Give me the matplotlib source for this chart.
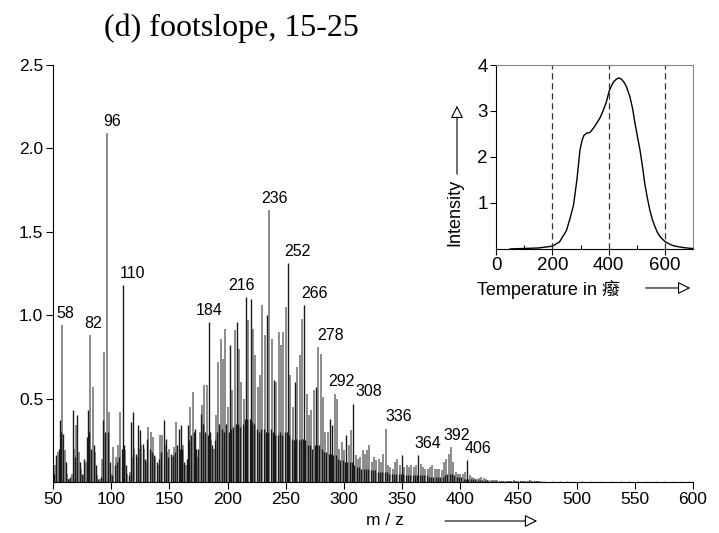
import numpy as np
import matplotlib
matplotlib.use('Agg')
from matplotlib import pyplot as plt
from matplotlib.patches import FancyArrowPatch

plt.rcParams['font.family'] = ['Liberation Sans', 'Noto Sans CJK SC']

# mass spectrum, one value per integer m/z starting at 50
mz_start = 50
intensity = [
    0.03, 0.05, 0.10, 0.16, 0.18, 0.20, 0.37, 0.30, 0.94, 0.29,   # 50
    0.19, 0.12, 0.05, 0.02, 0.02, 0.03, 0.05, 0.43, 0.20, 0.15,   # 60
    0.34, 0.40, 0.18, 0.12, 0.08, 0.05, 0.04, 0.14, 0.12, 0.27,   # 70
    0.43, 0.30, 0.88, 0.20, 0.57, 0.22, 0.18, 0.10, 0.04, 0.02,   # 80
    0.02, 0.03, 0.14, 0.37, 0.78, 0.30, 2.09, 0.30, 0.42, 0.12,   # 90
    0.05, 0.04, 0.21, 0.10, 0.15, 0.12, 0.22, 0.15, 0.42, 0.20,   # 100
    1.18, 0.22, 0.19, 0.10, 0.05, 0.04, 0.06, 0.36, 0.15, 0.42,   # 110
    0.20, 0.17, 0.15, 0.34, 0.20, 0.31, 0.22, 0.23, 0.20, 0.14,   # 120
    0.12, 0.26, 0.33, 0.20, 0.30, 0.18, 0.27, 0.16, 0.15, 0.12,   # 130
    0.10, 0.14, 0.28, 0.18, 0.28, 0.37, 0.22, 0.26, 0.18, 0.15,   # 140
    0.20, 0.17, 0.15, 0.16, 0.21, 0.18, 0.36, 0.22, 0.32, 0.20,   # 150
    0.34, 0.20, 0.22, 0.12, 0.10, 0.14, 0.34, 0.25, 0.45, 0.28,   # 160
    0.54, 0.30, 0.32, 0.20, 0.15, 0.20, 0.30, 0.41, 0.46, 0.35,   # 170
    0.58, 0.30, 0.58, 0.28, 0.96, 0.30, 0.25, 0.22, 0.20, 0.25,   # 180
    0.40, 0.30, 0.72, 0.35, 0.86, 0.32, 0.74, 0.30, 0.92, 0.35,   # 190
    0.45, 0.30, 0.82, 0.32, 0.55, 0.33, 0.91, 0.35, 0.96, 0.35,   # 200
    0.80, 0.33, 0.60, 0.35, 0.50, 0.38, 1.11, 0.38, 0.97, 0.38,   # 210
    1.10, 0.36, 0.92, 0.35, 0.76, 0.32, 0.57, 0.30, 0.64, 0.32,   # 220
    1.06, 0.32, 0.88, 0.30, 1.00, 0.30, 1.63, 0.32, 0.86, 0.30,   # 230
    0.61, 0.28, 0.60, 0.28, 0.90, 0.30, 0.82, 0.28, 0.90, 0.30,   # 240
    1.05, 0.30, 1.31, 0.28, 0.64, 0.26, 0.45, 0.25, 0.60, 0.26,   # 250
    0.69, 0.25, 0.76, 0.26, 0.98, 0.26, 1.06, 0.25, 0.53, 0.22,   # 260
    0.40, 0.22, 0.43, 0.20, 0.55, 0.22, 0.57, 0.22, 0.81, 0.22,   # 270
    0.77, 0.20, 0.51, 0.18, 0.30, 0.18, 0.30, 0.17, 0.38, 0.17,   # 280
    0.34, 0.16, 0.53, 0.16, 0.50, 0.14, 0.20, 0.13, 0.24, 0.13,   # 290
    0.19, 0.12, 0.28, 0.12, 0.22, 0.12, 0.31, 0.12, 0.47, 0.10,   # 300
    0.16, 0.09, 0.14, 0.09, 0.15, 0.08, 0.19, 0.08, 0.17, 0.08,   # 310
    0.19, 0.08, 0.22, 0.07, 0.12, 0.07, 0.15, 0.07, 0.13, 0.06,   # 320
    0.14, 0.06, 0.12, 0.06, 0.17, 0.06, 0.32, 0.06, 0.10, 0.05,   # 330
    0.09, 0.05, 0.08, 0.05, 0.12, 0.05, 0.14, 0.05, 0.10, 0.05,   # 340
    0.16, 0.05, 0.09, 0.04, 0.10, 0.04, 0.09, 0.04, 0.10, 0.04,   # 350
    0.09, 0.04, 0.10, 0.04, 0.16, 0.04, 0.11, 0.04, 0.09, 0.04,   # 360
    0.08, 0.04, 0.08, 0.03, 0.09, 0.03, 0.10, 0.03, 0.08, 0.03,   # 370
    0.08, 0.03, 0.08, 0.03, 0.07, 0.03, 0.12, 0.04, 0.14, 0.05,   # 380
    0.17, 0.05, 0.21, 0.05, 0.12, 0.04, 0.06, 0.03, 0.05, 0.03,   # 390
    0.05, 0.03, 0.05, 0.02, 0.06, 0.02, 0.13, 0.02, 0.04, 0.02,   # 400
    0.03, 0.015, 0.025, 0.015, 0.02, 0.01, 0.025, 0.01, 0.03, 0.01,   # 410
    0.025, 0.01, 0.015, 0.01, 0.012, 0.008, 0.01, 0.008, 0.01, 0.008,  # 420
    0.01, 0.006, 0.01, 0.006, 0.008, 0.005, 0.008, 0.005, 0.008, 0.005,  # 430
    0.008, 0.005, 0.008, 0.005, 0.007, 0.005, 0.01, 0.005, 0.007, 0.005,  # 440
    0.006, 0.004, 0.006, 0.004, 0.006, 0.004, 0.006, 0.004, 0.006, 0.004,  # 450
    0.012, 0.004, 0.008, 0.004, 0.005, 0.003, 0.005, 0.003, 0.005, 0.003,  # 460
]
# small scattered signals above m/z 470
tail_mz = [472, 480, 486, 492, 505, 512, 521, 530, 538, 545, 553, 560, 568, 575, 583, 590, 597]
tail_int = [0.006, 0.005, 0.004, 0.006, 0.005, 0.004, 0.005, 0.006, 0.004, 0.005, 0.004,
            0.005, 0.004, 0.005, 0.004, 0.005, 0.006]

# even masses drawn in black (odd masses are black too)
dark_even = [56, 80, 110, 158, 160, 166, 172, 184, 202, 208, 216, 220, 234, 240,
             252, 258, 266, 276, 288, 290, 302, 308, 350, 364, 406]

peak_labels = [58, 82, 96, 110, 184, 216, 236, 252, 266, 278, 292, 308, 336, 364, 392, 406]
label_dx = [2, 2, 4, 7, 0, -3, 4, 7, 7, 9, 5, 11, 9, 7, 4, 8]

# thermogram (inset)
temp = [50, 100, 150, 200, 225, 250, 262, 275, 287, 298, 305, 312, 322, 333, 345, 357,
        370, 381, 392, 401, 410, 418, 427, 436, 446, 455, 463, 475, 485, 493, 502, 511,
        520, 528, 537, 546, 555, 564, 573, 582, 600, 615, 629, 645, 665, 685, 700]
tic = [0.00, 0.01, 0.02, 0.06, 0.15, 0.40, 0.65, 0.95, 1.50, 2.15, 2.35, 2.47, 2.52,
       2.53, 2.62, 2.73, 2.86, 3.02, 3.20, 3.42, 3.55, 3.64, 3.69, 3.72, 3.69, 3.62,
       3.53, 3.32, 3.05, 2.75, 2.45, 2.16, 1.80, 1.43, 1.12, 0.85, 0.64, 0.49, 0.36,
       0.27, 0.16, 0.11, 0.07, 0.05, 0.03, 0.015, 0.01]

BLACK = '#1a1a1a'
GRAY = '#6e6e6e'

fig = plt.figure(figsize=(7.19, 5.33), dpi=100)
ax = fig.add_axes([0.0737, 0.0957, 0.8901, 0.7824])

mz = np.arange(mz_start, mz_start + len(intensity))
inten = np.array(intensity)
is_dark = (mz % 2 == 1) | np.isin(mz, dark_even)
# gray first, black on top
ax.vlines(mz[~is_dark], 0, inten[~is_dark], colors=GRAY, linewidth=1.1)
ax.vlines(mz[is_dark], 0, inten[is_dark], colors=BLACK, linewidth=1.0)
ax.vlines(tail_mz, 0, tail_int, colors=GRAY, linewidth=1.0)

for m, dx in zip(peak_labels, label_dx):
    ax.annotate(str(m), (m, intensity[m - mz_start]), xytext=(dx, 3),
                textcoords='offset points', ha='center', va='bottom', fontsize=11.5)

ax.set_xlim(50, 600)
ax.set_ylim(0, 2.5)
ax.set_xticks(np.arange(50, 601, 50))
ax.set_yticks([0.5, 1.0, 1.5, 2.0, 2.5])
ax.set_yticklabels(['0.5', '1.0', '1.5', '2.0', '2.5'])
ax.tick_params(direction='out', length=5, width=0.8, labelsize=12.5, pad=2)
ax.spines['top'].set_visible(False)
ax.spines['right'].set_visible(False)
ax.patch.set_alpha(0)
ax.set_xlabel('m / z', fontsize=12.5)
ax.xaxis.set_label_coords(0.519, -0.075)

fig.text(0.322, 0.947, '(d) footslope, 15-25', family='Liberation Serif',
         fontsize=23, ha='center', va='center')

fig.add_artist(FancyArrowPatch((0.615, 0.0225), (0.751, 0.0225), transform=fig.transFigure,
                               arrowstyle='-|>', mutation_scale=19, lw=0.8,
                               fc='white', ec='black'))

# inset
ins = fig.add_axes([0.690, 0.533, 0.274, 0.345])
ins.plot(temp, tic, color='black', lw=1.0)
for t in [200, 400, 600]:
    ins.axvline(t, color='#333333', lw=0.9, ls=(0, (5, 3)))
ins.set_xlim(0, 700)
ins.set_ylim(0, 4)
ins.set_xticks([0, 200, 400, 600])
ins.set_xticks([100, 300, 500], minor=True)
ins.set_yticks([1, 2, 3, 4])
ins.tick_params(direction='out', length=4, width=0.8, labelsize=13.5, pad=2)
ins.tick_params(which='minor', direction='in', length=3, width=0.8)
ins.spines['top'].set_color('#888888')
ins.spines['right'].set_color('#888888')
ins.set_xlabel('Temperature in 癈', fontsize=13)
ins.xaxis.set_label_coords(0.264, -0.17)
ins.set_ylabel('Intensity', fontsize=13)
ins.yaxis.set_label_coords(-0.168, 0.196)

fig.add_artist(FancyArrowPatch((0.894, 0.4597), (0.964, 0.4597), transform=fig.transFigure,
                               arrowstyle='-|>', mutation_scale=19, lw=0.8,
                               fc='white', ec='black'))
fig.add_artist(FancyArrowPatch((0.6356, 0.668), (0.6356, 0.807), transform=fig.transFigure,
                               arrowstyle='-|>', mutation_scale=19, lw=0.8,
                               fc='white', ec='black'))

fig.savefig('out.png', dpi=100)
